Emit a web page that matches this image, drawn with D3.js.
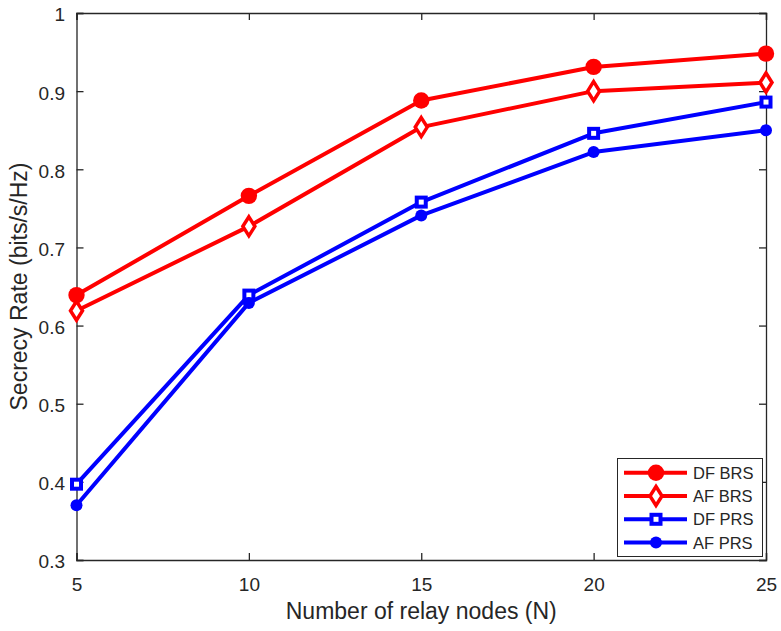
<!DOCTYPE html>
<html>
<head>
<meta charset="utf-8">
<script src="https://cdn.jsdelivr.net/npm/d3@7"></script>
<style>
  html, body { margin: 0; padding: 0; background: #fff; }
  svg { display: block; font-family: "Liberation Sans", Arial, sans-serif; }
</style>
</head>
<body>
<svg id="chart" width="781" height="631"></svg>
<script>
// Relay counts on the x axis
const relayNodes = [5, 10, 15, 20, 25];

// Secrecy rate per scheme (bits/s/Hz)
const dfBRS = [0.639, 0.766, 0.888, 0.931, 0.948];
const afBRS = [0.619, 0.727, 0.854, 0.900, 0.911];
const dfPRS = [0.397, 0.639, 0.758, 0.846, 0.886];
const afPRS = [0.370, 0.629, 0.741, 0.822, 0.850];

const seriesNames = ["DF BRS", "AF BRS", "DF PRS", "AF PRS"];

const xTicks = [5, 10, 15, 20, 25];
const yTicks = [0.3, 0.4, 0.5, 0.6, 0.7, 0.8, 0.9, 1];

const series = [
  { name: seriesNames[0], values: dfBRS, color: "#ff0000", marker: "bigCircle" },
  { name: seriesNames[1], values: afBRS, color: "#ff0000", marker: "diamond" },
  { name: seriesNames[2], values: dfPRS, color: "#0000ff", marker: "square" },
  { name: seriesNames[3], values: afPRS, color: "#0000ff", marker: "circle" }
];

const svg = d3.select("#chart");
const plot = { left: 76.5, right: 766, top: 13, bottom: 560 };

const x = d3.scaleLinear().domain([5, 25]).range([plot.left, plot.right]);
const y = d3.scaleLinear().domain([0.3, 1]).range([plot.bottom, plot.top]);

const axisColor = "#262626";
const tickLen = 7;
const fontFamily = "'Liberation Sans', Arial, sans-serif";

// Axes: box with inward ticks on all four sides
const gx = svg.append("g").attr("transform", `translate(0,${plot.bottom})`)
  .call(d3.axisBottom(x).tickValues(xTicks).tickSize(-tickLen).tickPadding(18).tickFormat(d3.format("d")));
const gxTop = svg.append("g").attr("transform", `translate(0,${plot.top})`)
  .call(d3.axisTop(x).tickValues(xTicks).tickSize(-tickLen).tickFormat(""));
const gy = svg.append("g").attr("transform", `translate(${plot.left},0)`)
  .call(d3.axisLeft(y).tickValues(yTicks).tickSize(-tickLen).tickPadding(11.5)
    .tickFormat(d => d === 1 ? "1" : d3.format(".1f")(d)));
const gyRight = svg.append("g").attr("transform", `translate(${plot.right},0)`)
  .call(d3.axisRight(y).tickValues(yTicks).tickSize(-tickLen).tickFormat(""));

[gx, gxTop, gy, gyRight].forEach(g => {
  g.attr("font-size", 19).attr("font-family", fontFamily);
  g.select(".domain").attr("stroke", axisColor).attr("stroke-width", 1.3);
  g.selectAll(".tick line").attr("stroke", axisColor).attr("stroke-width", 1.3);
  g.selectAll(".tick text").attr("fill", axisColor);
});
gy.selectAll(".tick text").attr("dy", "0.42em");

// Axis titles
svg.append("text")
  .attr("x", (plot.left + plot.right) / 2).attr("y", 619)
  .attr("text-anchor", "middle").attr("fill", axisColor).attr("font-size", 23)
  .text("Number of relay nodes (N)");
svg.append("text")
  .attr("transform", `translate(27,${(plot.top + plot.bottom) / 2}) rotate(-90)`)
  .attr("text-anchor", "middle").attr("fill", axisColor).attr("font-size", 23)
  .text("Secrecy Rate (bits/s/Hz)");

// Marker drawing
function drawMarker(g, type, color) {
  if (type === "bigCircle") {
    g.append("circle").attr("r", 8.2).attr("fill", color);
  } else if (type === "circle") {
    g.append("circle").attr("r", 6).attr("fill", color);
  } else if (type === "diamond") {
    g.append("path").attr("d", "M0,-9.5L6,0L0,9.5L-6,0Z")
      .attr("fill", "#fff").attr("stroke", color).attr("stroke-width", 3.5);
  } else if (type === "square") {
    g.append("rect").attr("x", -4.5).attr("y", -4.5).attr("width", 9).attr("height", 9)
      .attr("fill", "#fff").attr("stroke", color).attr("stroke-width", 4);
  }
}

const line = d3.line().x((d, i) => x(relayNodes[i])).y(d => y(d));

series.forEach(s => {
  svg.append("path")
    .attr("d", line(s.values))
    .attr("fill", "none").attr("stroke", s.color).attr("stroke-width", 4)
    .attr("stroke-linejoin", "round");
  s.values.forEach((v, i) => {
    const g = svg.append("g").attr("transform", `translate(${x(relayNodes[i])},${y(v)})`);
    drawMarker(g, s.marker, s.color);
  });
});

// Legend
const legend = svg.append("g");
legend.append("rect")
  .attr("x", 617.5).attr("y", 458.5).attr("width", 145).attr("height", 98)
  .attr("fill", "#fff").attr("stroke", axisColor).attr("stroke-width", 1);
series.forEach((s, i) => {
  const yy = 472.7 + i * 23.3;
  legend.append("line").attr("x1", 624).attr("x2", 687).attr("y1", yy).attr("y2", yy)
    .attr("stroke", s.color).attr("stroke-width", 4);
  const g = legend.append("g").attr("transform", `translate(656,${yy})`);
  drawMarker(g, s.marker, s.color);
  legend.append("text").attr("x", 693).attr("y", yy + 6)
    .attr("fill", axisColor).attr("font-size", 16.5).attr("font-family", fontFamily).text(s.name);
});
</script>
</body>
</html>
